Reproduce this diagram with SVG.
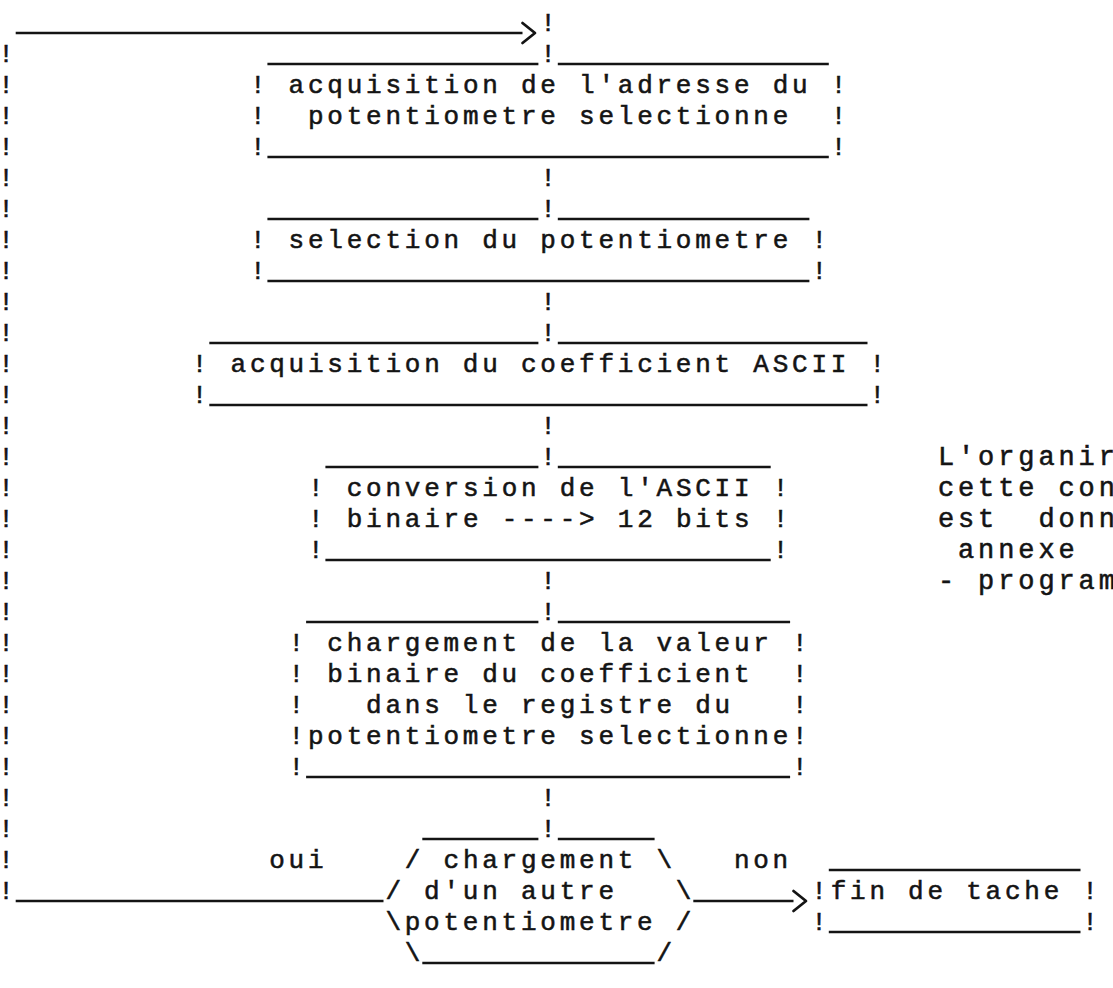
<svg xmlns="http://www.w3.org/2000/svg" width="1113" height="988" viewBox="0 0 1113 988" xml:space="preserve">
  <style>
    .t { font-family: "Liberation Mono", "DejaVu Sans Mono", monospace; font-size: 26px; letter-spacing: 3.76px; fill: #141414; stroke: #141414; stroke-width: 0.55; white-space: pre; }
    .n { font-family: "Liberation Mono", "DejaVu Sans Mono", monospace; font-size: 27px; letter-spacing: 3.9px; fill: #141414; stroke: #141414; stroke-width: 0.55; white-space: pre; }
    .r { stroke: #141414; stroke-width: 2.6; fill: none; }
    .h { stroke: #141414; stroke-width: 2.8; fill: none; stroke-linecap: round; stroke-linejoin: round; }
  </style>
  <rect width="1113" height="988" fill="#ffffff"/>

  <!-- connectors: return loop, vertical links, exits and branch labels -->
  <g id="connectors">
    <line class="r" x1="15.7" y1="33" x2="522.5" y2="33"/>
    <path class="h" d="M522.5 23 L535 33 L522.5 43"/>
    <text class="t" x="540.3" y="30.5">!</text>
    <g id="loop-column">
      <text class="t" x="-1.8" y="61.5">!</text>
      <text class="t" x="-1.8" y="92.5">!</text>
      <text class="t" x="-1.8" y="123.5">!</text>
      <text class="t" x="-1.8" y="154.5">!</text>
      <text class="t" x="-1.8" y="185.5">!</text>
      <text class="t" x="-1.8" y="216.5">!</text>
      <text class="t" x="-1.8" y="247.5">!</text>
      <text class="t" x="-1.8" y="278.5">!</text>
      <text class="t" x="-1.8" y="309.5">!</text>
      <text class="t" x="-1.8" y="340.5">!</text>
      <text class="t" x="-1.8" y="371.5">!</text>
      <text class="t" x="-1.8" y="402.5">!</text>
      <text class="t" x="-1.8" y="433.5">!</text>
      <text class="t" x="-1.8" y="464.5">!</text>
      <text class="t" x="-1.8" y="495.5">!</text>
      <text class="t" x="-1.8" y="526.5">!</text>
      <text class="t" x="-1.8" y="557.5">!</text>
      <text class="t" x="-1.8" y="588.5">!</text>
      <text class="t" x="-1.8" y="619.5">!</text>
      <text class="t" x="-1.8" y="650.5">!</text>
      <text class="t" x="-1.8" y="681.5">!</text>
      <text class="t" x="-1.8" y="712.5">!</text>
      <text class="t" x="-1.8" y="743.5">!</text>
      <text class="t" x="-1.8" y="774.5">!</text>
      <text class="t" x="-1.8" y="805.5">!</text>
      <text class="t" x="-1.8" y="836.5">!</text>
      <text class="t" x="-1.8" y="867.5">!</text>
      <text class="t" x="-1.8" y="898.5">!</text>
    </g>
    <g id="spine">
      <text class="t" x="540.3" y="61.5">!</text>
      <text class="t" x="540.3" y="185.5">!</text>
      <text class="t" x="540.3" y="216.5">!</text>
      <text class="t" x="540.3" y="309.5">!</text>
      <text class="t" x="540.3" y="340.5">!</text>
      <text class="t" x="540.3" y="433.5">!</text>
      <text class="t" x="540.3" y="464.5">!</text>
      <text class="t" x="540.3" y="588.5">!</text>
      <text class="t" x="540.3" y="619.5">!</text>
      <text class="t" x="540.3" y="805.5">!</text>
      <text class="t" x="540.3" y="836.5">!</text>
    </g>
    <line class="r" x1="15.7" y1="901" x2="383.5" y2="901"/>
    <line class="r" x1="693.3" y1="901" x2="793.5" y2="901"/>
    <path class="h" d="M793.5 891 L806 901 L793.5 911"/>
    <text class="t" x="269.2" y="867.5">oui</text>
    <text class="t" x="733.9" y="867.5">non</text>
  </g>

  <!-- step 1 -->
  <g id="box-adresse">
    <line class="r" x1="267.4" y1="64" x2="538.4" y2="64"/>
    <line class="r" x1="557.8" y1="64" x2="828.8" y2="64"/>
    <text class="t" x="249.9" y="92.5">! acquisition de l'adresse du !</text>
    <text class="t" x="249.9" y="123.5">!  potentiometre selectionne  !</text>
    <text class="t" x="249.9" y="154.5">!                             !</text>
    <line class="r" x1="267.4" y1="157" x2="828.8" y2="157"/>
  </g>

  <!-- step 2 -->
  <g id="box-selection">
    <line class="r" x1="267.4" y1="219" x2="538.4" y2="219"/>
    <line class="r" x1="557.8" y1="219" x2="809.4" y2="219"/>
    <text class="t" x="249.9" y="247.5">! selection du potentiometre !</text>
    <text class="t" x="249.9" y="278.5">!                            !</text>
    <line class="r" x1="267.4" y1="281" x2="809.4" y2="281"/>
  </g>

  <!-- step 3 -->
  <g id="box-coefficient">
    <line class="r" x1="209.3" y1="343" x2="538.4" y2="343"/>
    <line class="r" x1="557.8" y1="343" x2="867.5" y2="343"/>
    <text class="t" x="191.8" y="371.5">! acquisition du coefficient ASCII !</text>
    <text class="t" x="191.8" y="402.5">!                                  !</text>
    <line class="r" x1="209.3" y1="405" x2="867.5" y2="405"/>
  </g>

  <!-- step 4 -->
  <g id="box-conversion">
    <line class="r" x1="325.4" y1="467" x2="538.4" y2="467"/>
    <line class="r" x1="557.8" y1="467" x2="770.7" y2="467"/>
    <text class="t" x="308" y="495.5">! conversion de l'ASCII !</text>
    <text class="t" x="308" y="526.5">! binaire ----&gt; 12 bits !</text>
    <text class="t" x="308" y="557.5">!                       !</text>
    <line class="r" x1="325.4" y1="560" x2="770.7" y2="560"/>
  </g>

  <!-- side note -->
  <g id="note">
    <text class="n" x="937.9" y="464.5">L'organir</text>
    <text class="n" x="937.9" y="495.5">cette con</text>
    <text class="n" x="937.9" y="526.5">est  donn</text>
    <text class="n" x="937.9" y="557.5"> annexe</text>
    <text class="n" x="937.9" y="588.5">- program</text>
  </g>

  <!-- step 5 -->
  <g id="box-chargement">
    <line class="r" x1="306.1" y1="622" x2="538.4" y2="622"/>
    <line class="r" x1="557.8" y1="622" x2="790.1" y2="622"/>
    <text class="t" x="288.6" y="650.5">! chargement de la valeur !</text>
    <text class="t" x="288.6" y="681.5">! binaire du coefficient  !</text>
    <text class="t" x="288.6" y="712.5">!   dans le registre du   !</text>
    <text class="t" x="288.6" y="743.5">!potentiometre selectionne!</text>
    <text class="t" x="288.6" y="774.5">!                         !</text>
    <line class="r" x1="306.1" y1="777" x2="790.1" y2="777"/>
  </g>

  <!-- decision -->
  <g id="decision">
    <line class="r" x1="422.3" y1="839" x2="538.4" y2="839"/>
    <line class="r" x1="557.8" y1="839" x2="654.6" y2="839"/>
    <text class="t" x="404.8" y="867.5">/ chargement \</text>
    <text class="t" x="385.4" y="898.5">/ d'un autre   \</text>
    <text class="t" x="385.4" y="929.5">\potentiometre /</text>
    <text class="t" x="404.8" y="960.5">\            /</text>
    <line class="r" x1="422.3" y1="963" x2="654.6" y2="963"/>
  </g>

  <!-- end -->
  <g id="box-fin">
    <line class="r" x1="828.8" y1="870" x2="1080.5" y2="870"/>
    <text class="t" x="811.3" y="898.5">!fin de tache !</text>
    <text class="t" x="811.3" y="929.5">!             !</text>
    <line class="r" x1="828.8" y1="932" x2="1080.5" y2="932"/>
  </g>
</svg>
